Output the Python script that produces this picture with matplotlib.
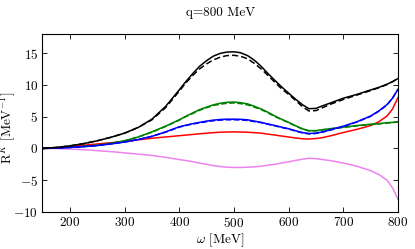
import numpy as np
import matplotlib
matplotlib.use('Agg')
import matplotlib.pyplot as plt

plt.rcParams['font.family'] = 'cmr10'
plt.rcParams['mathtext.fontset'] = 'cm'
plt.rcParams['axes.formatter.use_mathtext'] = True

FS = 9.5

omega = [150, 175, 200, 225, 250, 275, 300, 325, 350, 375, 400, 412, 425, 437, 450, 462, 475, 487,
         500, 512, 525, 537, 550, 562, 575, 587, 600, 612, 625, 637, 650, 662, 675, 700, 725, 750,
         765, 780, 790, 800]

black_solid = [0.0, 0.15, 0.4, 0.75, 1.2, 1.75, 2.4, 3.3, 4.6, 6.6, 9.2, 10.5, 11.8, 12.9, 13.8, 14.5, 14.95, 15.15,
               15.2, 15.05, 14.6, 13.9, 12.9, 11.8, 10.7, 9.7, 8.7, 7.8, 6.9, 6.25, 6.3, 6.7, 7.1, 7.9, 8.5, 9.2,
               9.6, 10.1, 10.5, 11.0]
black_dash = [0.0, 0.15, 0.4, 0.75, 1.2, 1.75, 2.4, 3.3, 4.5, 6.4, 9.0, 10.3, 11.5, 12.5, 13.3, 13.9, 14.35, 14.6,
              14.65, 14.5, 14.1, 13.4, 12.5, 11.5, 10.4, 9.4, 8.5, 7.6, 6.6, 5.9, 5.95, 6.4, 6.9, 7.7, 8.4, 9.1,
              9.55, 10.05, 10.5, 11.0]
green_solid = [0.0, 0.07, 0.18, 0.32, 0.5, 0.8, 1.2, 1.8, 2.6, 3.5, 4.5, 5.05, 5.6, 6.1, 6.5, 6.85, 7.1, 7.25,
               7.3, 7.2, 7.0, 6.65, 6.2, 5.7, 5.1, 4.6, 4.1, 3.6, 3.1, 2.8, 2.8, 2.95, 3.1, 3.35, 3.6, 3.8,
               3.9, 4.05, 4.1, 4.2]
green_dash = [0.0, 0.07, 0.18, 0.32, 0.5, 0.8, 1.2, 1.8, 2.55, 3.45, 4.45, 5.0, 5.5, 6.0, 6.4, 6.75, 6.95, 7.1,
              7.15, 7.05, 6.85, 6.5, 6.1, 5.6, 5.0, 4.55, 4.05, 3.55, 3.05, 2.75, 2.75, 2.9, 3.05, 3.3, 3.55, 3.75,
              3.85, 4.0, 4.05, 4.15]
blue_solid = [0.0, 0.05, 0.15, 0.28, 0.45, 0.7, 1.0, 1.4, 1.9, 2.6, 3.4, 3.65, 3.9, 4.1, 4.3, 4.45, 4.55, 4.6,
              4.6, 4.58, 4.5, 4.3, 4.1, 3.85, 3.6, 3.35, 3.1, 2.8, 2.5, 2.35, 2.4, 2.6, 2.9, 3.5, 4.2, 5.1,
              5.9, 6.9, 7.9, 9.3]
blue_dash = [0.0, 0.05, 0.15, 0.28, 0.45, 0.7, 1.0, 1.4, 1.9, 2.55, 3.35, 3.6, 3.85, 4.0, 4.2, 4.35, 4.45, 4.5,
             4.5, 4.48, 4.4, 4.22, 4.05, 3.8, 3.55, 3.3, 3.05, 2.75, 2.45, 2.28, 2.35, 2.55, 2.85, 3.45, 4.15, 5.05,
             5.85, 6.85, 7.9, 9.3]
red_solid = [0.0, 0.12, 0.3, 0.5, 0.7, 0.9, 1.1, 1.35, 1.6, 1.8, 2.0, 2.1, 2.2, 2.3, 2.4, 2.48, 2.55, 2.58,
             2.6, 2.58, 2.55, 2.48, 2.4, 2.25, 2.1, 1.95, 1.8, 1.65, 1.52, 1.48, 1.55, 1.7, 1.95, 2.5, 3.0, 3.6,
             4.2, 5.1, 6.2, 8.0]
violet_solid = [0.0, -0.03, -0.1, -0.2, -0.35, -0.5, -0.7, -0.9, -1.1, -1.4, -1.75, -1.9, -2.1, -2.3, -2.5, -2.7, -2.85, -2.95,
                -3.0, -3.0, -2.95, -2.9, -2.8, -2.65, -2.5, -2.3, -2.1, -1.9, -1.7, -1.55, -1.6, -1.75, -1.9, -2.3, -2.8, -3.5,
                -4.1, -5.0, -6.2, -8.0]

fig = plt.figure(figsize=(4.15, 2.49), dpi=100)
ax = fig.add_axes([0.1024, 0.1486, 0.8566, 0.7149])

lw = 1.1
ax.plot(omega, violet_solid, color='violet', linewidth=lw)
ax.plot(omega, red_solid, color='red', linewidth=lw)
ax.plot(omega, green_solid, color='green', linewidth=lw)
ax.plot(omega, green_dash, color='green', linewidth=lw, linestyle='--')
ax.plot(omega, blue_solid, color='blue', linewidth=lw)
ax.plot(omega, blue_dash, color='blue', linewidth=lw, linestyle='--')
ax.plot(omega, black_solid, color='black', linewidth=lw)
ax.plot(omega, black_dash, color='black', linewidth=lw, linestyle=(0, (4, 2)))

ax.set_xlim(150, 800)
ax.set_ylim(-10, 18)
ax.set_xticks([200, 300, 400, 500, 600, 700, 800])
ax.set_yticks([-10, -5, 0, 5, 10, 15])
ax.tick_params(direction='in', top=True, right=True, length=3.5, width=0.6, labelsize=FS, pad=3)
for s in ax.spines.values():
    s.set_linewidth(0.8)

ax.set_xlabel(r'$\omega$ [MeV]', fontsize=FS, labelpad=1)
ax.set_ylabel(r'R$^K$ [MeV$^{-1}$]', fontsize=FS)
ax.yaxis.set_label_coords(-0.072, 0.47)
ax.set_title('q=800 MeV', fontsize=FS, pad=13)

fig.savefig('out.png', dpi=100)
